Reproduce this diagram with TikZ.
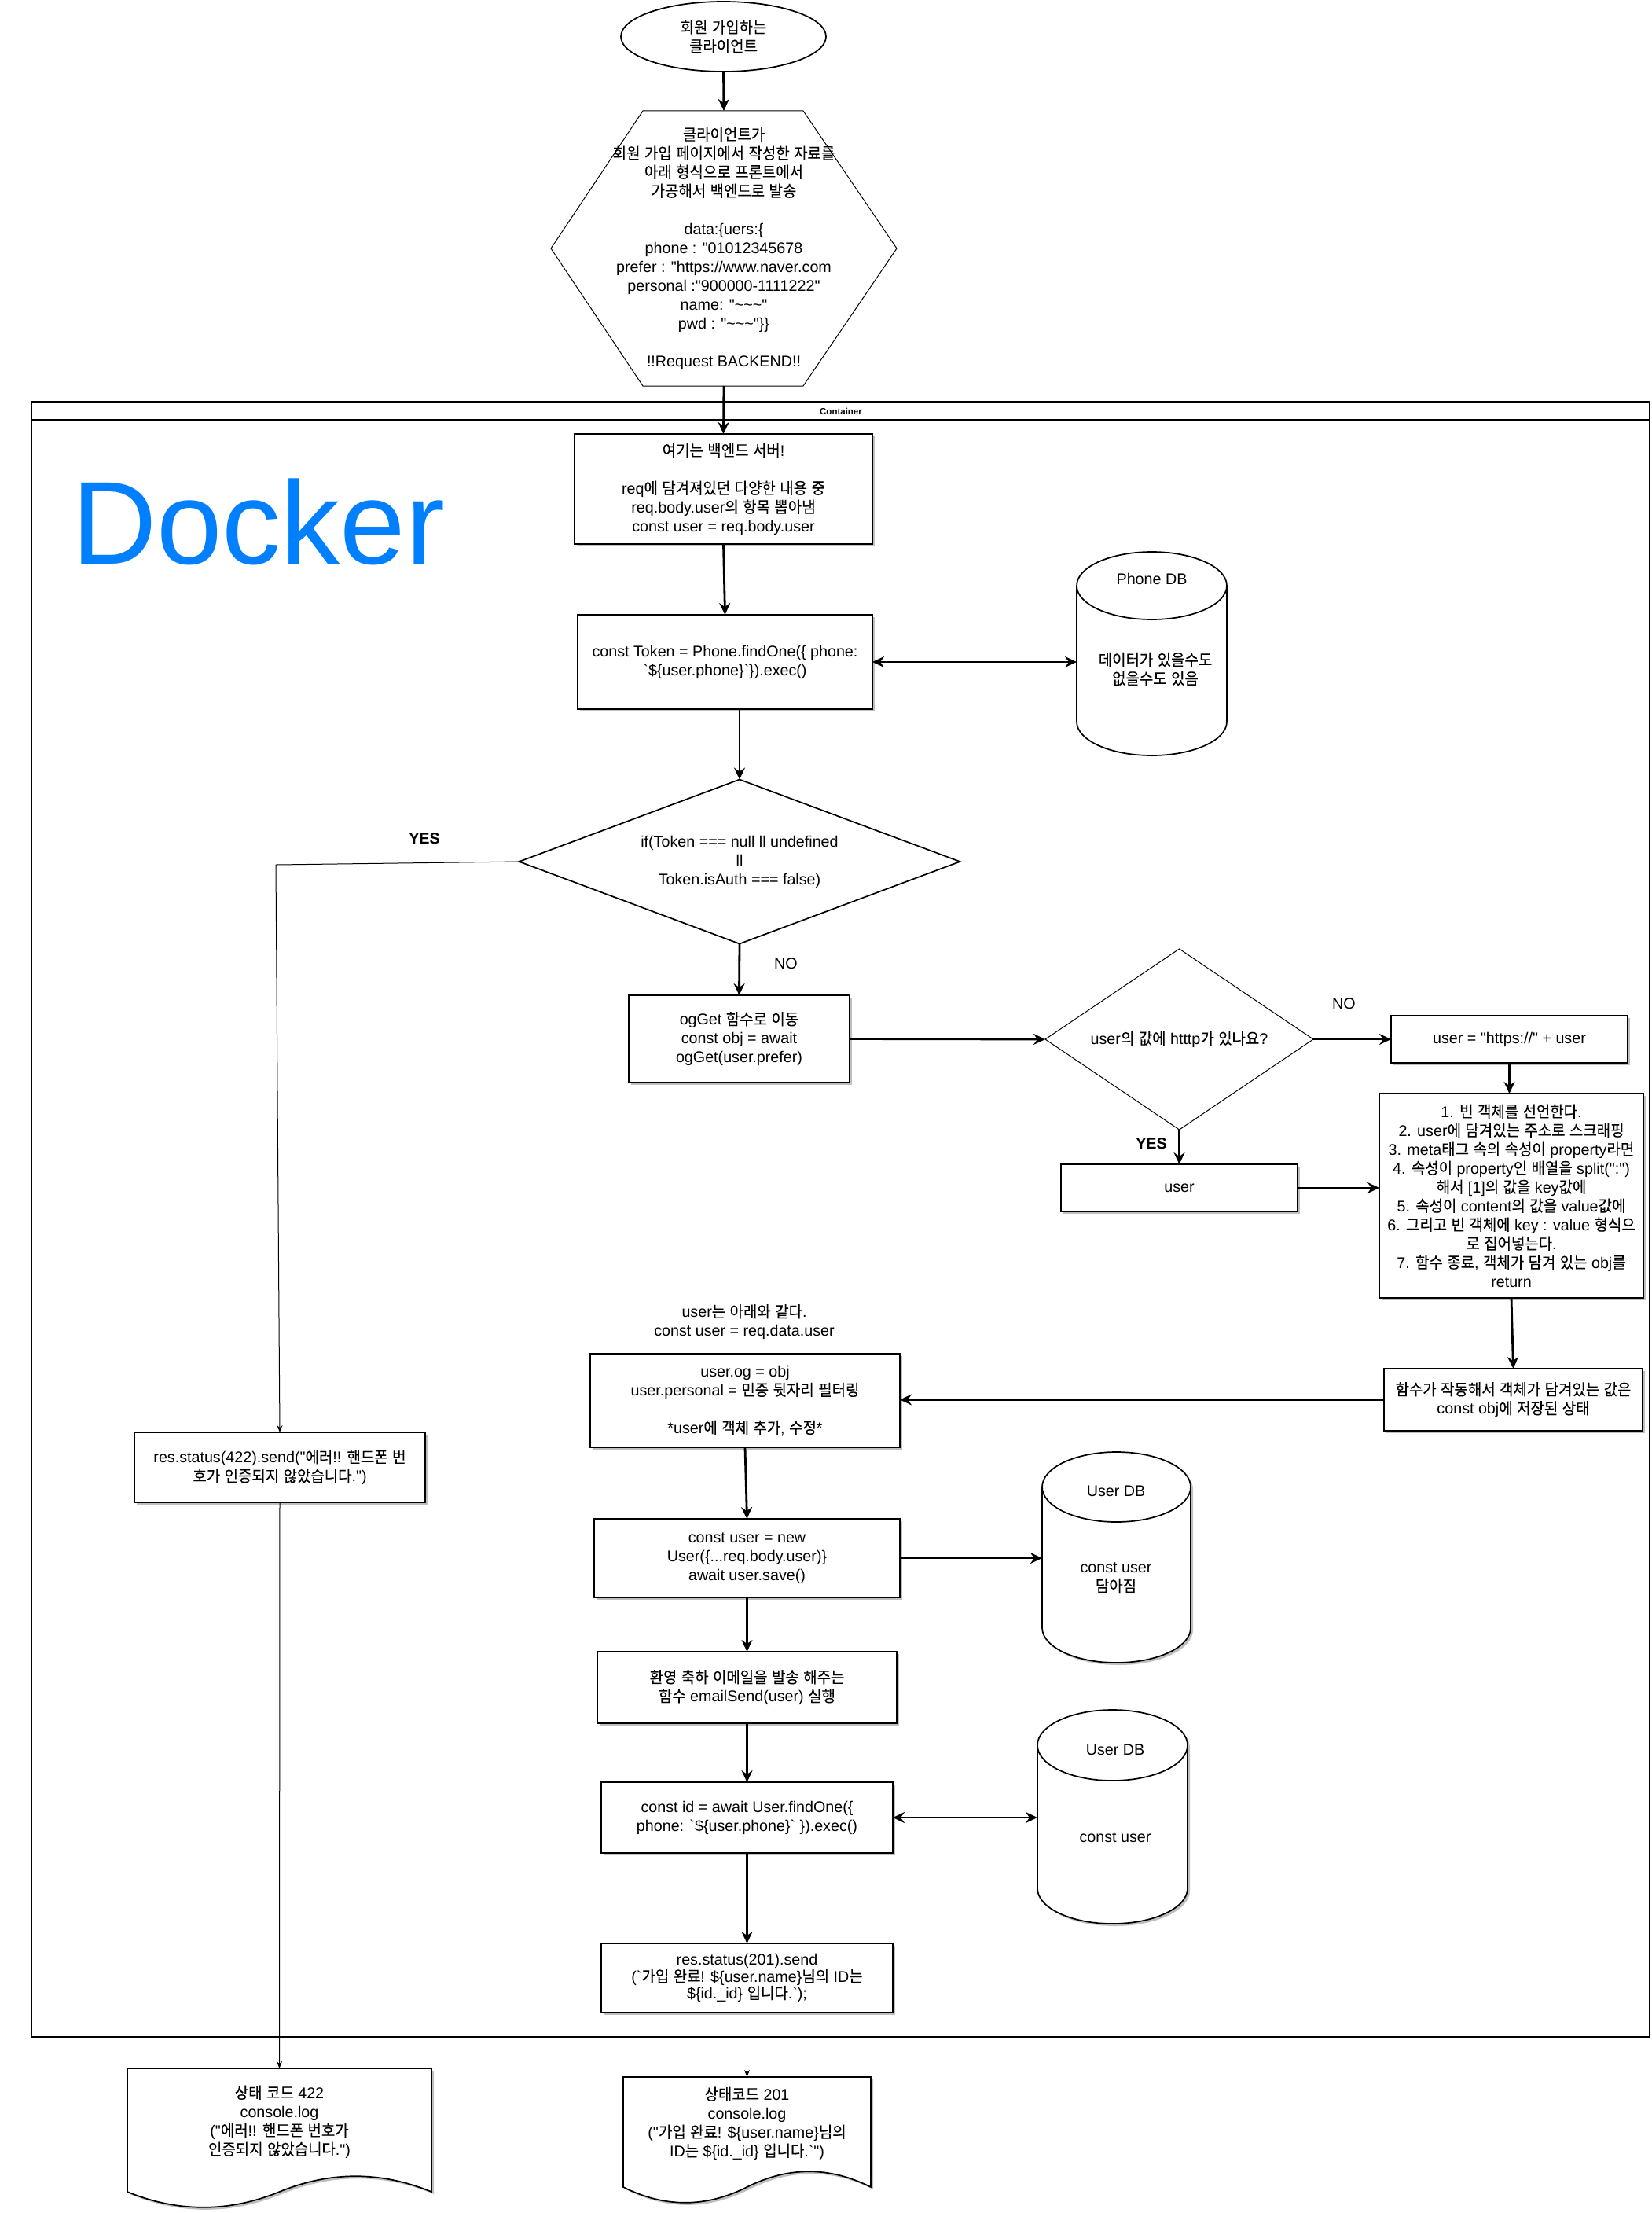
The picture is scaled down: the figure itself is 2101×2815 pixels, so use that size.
\documentclass[tikz,border=0pt]{standalone}
\usepackage{fontspec}
\usetikzlibrary{arrows.meta,shadows,shapes.geometric,calc}
\newfontfamily\lat{Liberation Sans}
\newfontfamily\krfont{Noto Sans CJK KR}[Scale=1.02,FakeStretch=0.94,FakeBold=0.12]
\XeTeXinterchartokenstate=1
\chardef\KRclass=42
\count255="AC00
\loop\ifnum\count255<"D7A4\relax
  \XeTeXcharclass\count255=\KRclass
  \advance\count255 by 1
\repeat
\XeTeXinterchartoks 0 \KRclass={\krfont}
\XeTeXinterchartoks 1 \KRclass={\krfont}
\XeTeXinterchartoks 2 \KRclass={\krfont}
\XeTeXinterchartoks 3 \KRclass={\krfont}
\XeTeXinterchartoks 4095 \KRclass={\krfont}
\XeTeXinterchartoks \KRclass 0={\lat}
\XeTeXinterchartoks \KRclass 1={\lat}
\XeTeXinterchartoks \KRclass 2={\lat}
\XeTeXinterchartoks \KRclass 3={\lat}
\XeTeXinterchartoks \KRclass 4095={\lat}
\definecolor{dockerblue}{RGB}{0,128,255}
\newcommand\mytx{\fontsize{19.7pt}{24pt}\selectfont\lat}
\newcommand\tld{\char"7E}
\newcommand\dbcyl[6]{\path[#1] (#2,#4-#6) -- (#2,#5+#6) arc[start angle=180,end angle=360,x radius={(#3-#2)/2},y radius=#6] -- (#3,#4-#6) arc[start angle=0,end angle=180,x radius={(#3-#2)/2},y radius=#6] -- cycle;}
\newcommand\dbcap[4]{\draw[line width=1.7pt] (#1,#3-#4) arc[start angle=180,end angle=360,x radius={(#2-#1)/2},y radius=#4];}
\newcommand\docA[1]{\path[#1] (162,-2631) -- (549,-2631) -- (549,-2788) .. controls (484.5,-2761.6) and (420,-2761.6) .. (355.5,-2788) .. controls (291,-2814.4) and (226.5,-2814.4) .. (162,-2788) -- cycle;}
\newcommand\docB[1]{\path[#1] (793,-2642) -- (1108,-2642) -- (1108,-2782) .. controls (1055.5,-2755.6) and (1003,-2755.6) .. (950.5,-2782) .. controls (898,-2808.4) and (845.5,-2808.4) .. (793,-2782) -- cycle;}
\tikzset{
  every node/.style={inner sep=0pt, outer sep=0pt},
  tx/.style={font=\mytx, align=center},
  blab/.style={font=\mytx\bfseries},
  box/.style={tx, draw, line width=1.7pt, fill=white,
    drop shadow={shadow xshift=3pt, shadow yshift=-3pt, fill=black!25, opacity=1}},
  arr/.style={line width=2.8pt, >={Stealth[length=15pt,width=14pt,inset=5pt]}, ->},
  darr/.style={line width=2.8pt, >={Stealth[length=15pt,width=14pt,inset=5pt]}, <->},
  tarr/.style={line width=1pt, >={Stealth[length=9pt,width=7pt,inset=3pt]}, ->},
}
\begin{document}
\begin{tikzpicture}[x=1pt,y=1pt]
\fill[white] (0,0) rectangle (2101,-2815);
\useasboundingbox (0,0) rectangle (2101,-2815);

% container
\node[draw, line width=1.2pt, minimum width=2059pt, minimum height=2080pt, anchor=north west] (cont) at (40,-511) {};
\draw[line width=1.2pt] ([yshift=-23pt]cont.north west) -- ([yshift=-23pt]cont.north east);
\node[font=\fontsize{11.5pt}{13pt}\selectfont\lat\bfseries] (contlab) at (1070,-523) {Container};
\node[anchor=base west, font=\fontsize{150pt}{150pt}\selectfont\lat, text=dockerblue] (docker) at (91,-717) {Docker};

% client and hexagon
\node[tx, ellipse, draw, line width=1.7pt, minimum width=261pt, minimum height=89pt] (client) at (920.5,-46.5) {회원 가입하는\\클라이언트};
\node[tx, minimum width=440pt, minimum height=350pt] (hex) at (921,-316) {클라이언트가\\회원 가입 페이지에서 작성한 자료를\\아래 형식으로 프론트에서\\가공해서 백엔드로 발송\\[24pt]data:\{uers:\{\\phone : "01012345678\\prefer : "https://www.naver.com\\personal :"900000-1111222"\\name: "\tld\tld\tld"\\pwd : "\tld\tld\tld"\}\}\\[24pt]!!Request BACKEND!!};
\draw[line width=1pt] ([xshift=117pt]hex.north west) -- ([xshift=-119pt]hex.north east) -- (hex.east) -- ([xshift=-119pt]hex.south east) -- ([xshift=117pt]hex.south west) -- (hex.west) -- cycle;

% backend boxes
\node[box, minimum width=379pt, minimum height=140pt] (be) at (920.5,-622) {여기는 백엔드 서버!\\[24pt]req에 담겨져있던 다양한 내용 중\\req.body.user의 항목 뽑아냄\\const user = req.body.user};
\node[box, minimum width=375pt, minimum height=120pt] (tok) at (922.5,-842) {const Token = Phone.findOne(\{ phone:\\`\$\{user.phone\}`\}).exec()};

% Phone DB
\dbcyl{draw, line width=1.7pt, fill=white}{1370}{1561}{-702}{-961}{43}
\dbcap{1370}{1561}{-702}{43}
\node[minimum width=191pt, minimum height=259pt] (pdb) at (1465.5,-831.5) {};
\node[tx] (pdbt) at (1465.5,-736) {Phone DB};
\node[tx] (pdbb) at (1470,-851) {데이터가 있을수도\\없을수도 있음};

% decision 1
\node[tx, minimum width=561pt, minimum height=209pt] (d1) at (941,-1096) {if(Token === null ll undefined\\ll\\Token.isAuth === false)};
\draw[line width=1.7pt] (d1.north) -- (d1.east) -- (d1.south) -- (d1.west) -- cycle;
\node[blab] (yes1) at (540,-1067) {YES};
\node[tx] (no1) at (1000,-1226) {NO};

\node[box, minimum width=281pt, minimum height=111pt] (og) at (940.5,-1321.5) {ogGet 함수로 이동\\const obj = await\\ogGet(user.prefer)};

% decision 2
\node[tx, minimum width=341pt, minimum height=230pt] (d2) at (1500.5,-1322) {user의 값에 htttp가 있나요?};
\draw[line width=1pt] (d2.north) -- (d2.east) -- (d2.south) -- (d2.west) -- cycle;
\node[tx] (no2) at (1710,-1277) {NO};
\node[blab] (yes2) at (1465,-1455) {YES};

\node[box, minimum width=301pt, minimum height=60pt] (https) at (1920.5,-1322) {user = "https://" + user};
\node[box, minimum width=301pt, minimum height=60pt] (user) at (1500.5,-1511) {user};
\node[box, minimum width=336pt, minimum height=260pt] (big) at (1923,-1521) {1. 빈 객체를 선언한다.\\2. user에 담겨있는 주소로 스크래핑\\3. meta태그 속의 속성이 property라면\\4. 속성이 property인 배열을 split(":")\\해서 \relax[1]의 값을 key값에\\5. 속성이 content의 값을 value값에\\6. 그리고 빈 객체에 key : value 형식으\\로 집어넣는다.\\7. 함수 종료, 객체가 담겨 있는 obj를\\return};
\node[box, minimum width=329pt, minimum height=79pt] (result) at (1925.5,-1780.5) {함수가 작동해서 객체가 담겨있는 값은\\const obj에 저장된 상태};

% lower chain
\node[tx] (note) at (947,-1681.5) {user는 아래와 같다.\\const user = req.data.user};
\node[box, minimum width=394pt, minimum height=119pt] (og2) at (948,-1781.5) {user.og = obj\\user.personal = 민증 뒷자리 필터링\\[24pt]*user에 객체 추가, 수정*};
\node[box, minimum width=389pt, minimum height=100pt] (newuser) at (950.5,-1982) {const user = new\\User(\{...req.body.user)\}\\await user.save()};

\dbcyl{fill=black!25, shift={(3,-3)}}{1326}{1515}{-1847}{-2115}{44.5}
\dbcyl{draw, line width=1.7pt, fill=white}{1326}{1515}{-1847}{-2115}{44.5}
\dbcap{1326}{1515}{-1847}{44.5}
\node[minimum width=189pt, minimum height=268pt] (udb1) at (1420.5,-1981) {};
\node[tx] (udb1t) at (1420,-1897) {User DB};
\node[tx] (udb1b) at (1420,-2007) {const user\\담아짐};

\node[box, minimum width=381pt, minimum height=91pt] (email) at (950.5,-2146.5) {환영 축하 이메일을 발송 해주는\\함수 emailSend(user) 실행};
\node[box, minimum width=371pt, minimum height=90pt] (find) at (950.5,-2312) {const id = await User.findOne(\{\\phone: `\$\{user.phone\}` \}).exec()};

\dbcyl{fill=black!25, shift={(3,-3)}}{1320}{1511}{-2175}{-2447}{45}
\dbcyl{draw, line width=1.7pt, fill=white}{1320}{1511}{-2175}{-2447}{45}
\dbcap{1320}{1511}{-2175}{45}
\node[minimum width=191pt, minimum height=272pt] (udb2) at (1415.5,-2311) {};
\node[tx] (udb2t) at (1419,-2226) {User DB};
\node[tx] (udb2b) at (1419,-2337) {const user};

\node[box, font=\fontsize{19.7pt}{21.5pt}\selectfont\lat, minimum width=371pt, minimum height=88pt] (send) at (950.5,-2516) {res.status(201).send\\(`가입 완료! \$\{user.name\}님의 ID는\\\$\{id.\_id\} 입니다.`);};

\node[box, minimum width=370pt, minimum height=89pt] (res422) at (356,-1866.5) {res.status(422).send("에러!! 핸드폰 번\\호가 인증되지 않았습니다.")};

% documents
\docA{fill=black!25, shift={(3,-3)}}
\docA{draw, line width=1.7pt, fill=white}
\node[tx, minimum width=387pt, minimum height=136pt] (doc1) at (355.5,-2699) {상태 코드 422\\console.log\\("에러!! 핸드폰 번호가\\인증되지 않았습니다.")};
\docB{fill=black!25, shift={(3,-3)}}
\docB{draw, line width=1.7pt, fill=white}
\node[tx, minimum width=315pt, minimum height=118pt] (doc2) at (950.5,-2701) {상태코드 201\\console.log\\("가입 완료! \$\{user.name\}님의\\ID는 \$\{id.\_id\} 입니다.`")};

% connectors
\coordinate (yesbend) at (351,-1100);
\draw[arr] (client.south) -- (hex.north);
\draw[arr] (hex.south) -- (be.north);
\draw[arr] (be.south) -- (tok.north);
\draw[darr] (tok.east) -- (tok.east -| pdb.west);
\draw[arr] (d1.north |- tok.south) -- (d1.north);
\draw[tarr] (d1.west) -- (yesbend) -- (res422.north);
\draw[arr] (d1.south) -- (og.north);
\draw[arr] (og.east) -- (d2.west);
\draw[arr] (d2.east) -- (https.west);
\draw[arr] (https.south) -- (https.south |- big.north);
\draw[arr] (d2.south) -- (user.north);
\draw[arr] (user.east) -- (user.east -| big.west);
\draw[arr] (big.south) -- (result.north);
\draw[arr] (result.west) -- (result.west -| og2.east);
\draw[arr] (og2.south) -- (newuser.north);
\draw[arr] (newuser.east) -- (newuser.east -| udb1.west);
\draw[arr] (newuser.south) -- (email.north);
\draw[arr] (email.south) -- (find.north);
\draw[darr] (find.east) -- (find.east -| udb2.west);
\draw[arr] (find.south) -- (send.north);
\draw[tarr] (send.south) -- (doc2.north);
\draw[tarr] (res422.south) -- (doc1.north);
\end{tikzpicture}
\end{document}
